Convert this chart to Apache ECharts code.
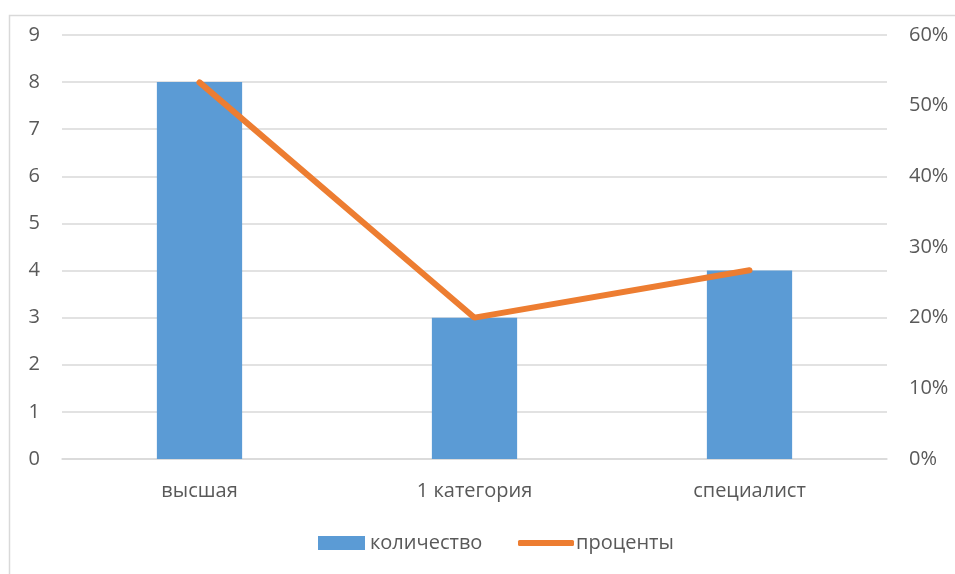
<!DOCTYPE html>
<html>
<head>
<meta charset="utf-8">
<script src="https://cdn.jsdelivr.net/npm/echarts@6/dist/echarts.min.js"></script>
<style>
  html, body { margin: 0; padding: 0; background: #fff; }
  #chart { width: 955px; height: 574px; }
</style>
</head>
<body>
<div id="chart"></div>
<script>
// data
const categories = ['высшая', '1 категория', 'специалист']
const countValues = [8, 3, 4]
const percentValues = [0.533, 0.2, 0.267]
const seriesNames = ['количество', 'проценты']

const labelFont = '"Open Sans", sans-serif'
const labelColor = '#595959'
const labelSize = 20

const chart = echarts.init(document.getElementById('chart'))

chart.setOption({
  backgroundColor: '#fff',
  animation: false,
  graphic: [{
    type: 'rect',
    shape: { x: 9.5, y: 15.5, width: 960, height: 600 },
    style: { fill: 'none', stroke: '#D9D9D9', lineWidth: 1.5 },
    silent: true
  }],
  grid: {
    left: 62,
    right: 68,
    top: 35,
    bottom: 115
  },
  // two legends so the line key can be a thin stroke
  legend: [{
    left: 313,
    top: 528,
    itemWidth: 47,
    itemHeight: 14,
    itemGap: 10,
    textStyle: { color: labelColor, fontSize: labelSize, fontFamily: labelFont },
    data: [{ name: seriesNames[0], icon: 'rect' }]
  }, {
    left: 513,
    top: 528,
    itemWidth: 56,
    itemHeight: 6,
    textStyle: { color: labelColor, fontSize: labelSize, fontFamily: labelFont, padding: [0, 0, 0, -3] },
    data: [{ name: seriesNames[1], icon: 'roundRect' }]
  }],
  xAxis: {
    type: 'category',
    data: categories,
    axisLine: { lineStyle: { color: '#D9D9D9', width: 1.5 } },
    axisTick: { show: false },
    axisLabel: { color: labelColor, fontSize: labelSize, fontFamily: labelFont, margin: 22 }
  },
  yAxis: [{
    type: 'value',
    min: 0,
    max: 9,
    interval: 1,
    axisLine: { show: false },
    axisTick: { show: false },
    axisLabel: { color: labelColor, fontSize: labelSize, fontFamily: labelFont, margin: 22 },
    splitLine: { lineStyle: { color: '#D9D9D9', width: 1.5 } }
  }, {
    type: 'value',
    min: 0,
    max: 0.6,
    interval: 0.1,
    axisLine: { show: false },
    axisTick: { show: false },
    splitLine: { show: false },
    axisLabel: {
      color: labelColor, fontSize: labelSize, fontFamily: labelFont, margin: 22,
      formatter: v => Math.round(v * 100) + '%'
    }
  }],
  series: [{
    name: seriesNames[0],
    type: 'bar',
    data: countValues,
    barWidth: '31%',
    itemStyle: { color: '#5B9BD5' }
  }, {
    name: seriesNames[1],
    type: 'line',
    yAxisIndex: 1,
    data: percentValues,
    symbol: 'none',
    lineStyle: { color: '#ED7D31', width: 6, cap: 'round' },
    itemStyle: { color: '#ED7D31' }
  }]
})
</script>
</body>
</html>
